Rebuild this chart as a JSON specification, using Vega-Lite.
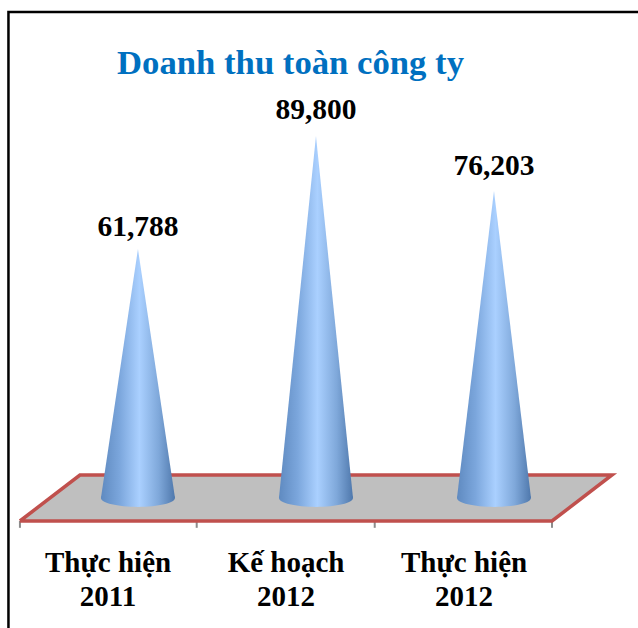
{"$schema":"https://vega.github.io/schema/vega-lite/v6.json","width":638,"height":628,"autosize":{"type":"none"},"padding":0,"background":"white","view":{"stroke":null},"datasets":{"frame":[{"x":-0.7275,"y":-32258,"o":0},{"x":-0.7275,"y":120596,"o":1},{"x":2.809,"y":120596,"o":2}],"floorFill":[{"x":-0.663,"y":-5707,"y2":-5707},{"x":-0.326,"y":5707,"y2":-5707},{"x":2.326,"y":5707,"y2":-5707},{"x":2.663,"y":5707,"y2":5707}],"floorEdge":[{"x":-0.663,"y":-5707,"o":0},{"x":-0.326,"y":5707,"o":1},{"x":2.663,"y":5707,"o":2},{"x":2.326,"y":-5707,"o":3},{"x":-0.663,"y":-5707,"o":4}],"ticks":[{"x":-0.663,"y":-5707,"y2":-7400},{"x":0.33,"y":-5707,"y2":-7400},{"x":1.33,"y":-5707,"y2":-7400},{"x":2.326,"y":-5707,"y2":-7400}],"cones":[{"name":"a","x":-0.208,"y":0},{"name":"a","x":0,"y":61788},{"name":"a","x":0.208,"y":0},{"name":"b","x":0.792,"y":0},{"name":"b","x":1,"y":89800},{"name":"b","x":1.208,"y":0},{"name":"c","x":1.792,"y":0},{"name":"c","x":2,"y":76203},{"name":"c","x":2.208,"y":0}],"categories":[{"pos":0,"value":61788,"labelAt":67246,"label":"Thực hiện\n2011","labelX":-0.168,"labelY":-16250},{"pos":1,"value":89800,"labelAt":96278,"label":"Kế hoạch\n2012","labelX":0.832,"labelY":-16250},{"pos":2,"value":76203,"labelAt":82382,"label":"Thực hiện\n2012","labelX":1.832,"labelY":-16250}],"title":[{"x":0.857,"y":107570,"text":"Doanh thu toàn công ty"}]},"encoding":{},"layer":[{"data":{"name":"frame"},"mark":{"type":"line","color":"black","strokeWidth":2.5,"interpolate":"linear"},"encoding":{"x":{"field":"x","type":"quantitative","scale":{"domain":[-0.775,2.809],"nice":false,"zero":false},"axis":null},"y":{"field":"y","type":"quantitative","scale":{"domain":[-32258,123573],"nice":false,"zero":false},"axis":null,"stack":null},"order":{"field":"o"}}},{"data":{"name":"floorFill"},"mark":{"type":"area","color":"#BFBFBF"},"encoding":{"x":{"field":"x","type":"quantitative"},"y":{"field":"y","type":"quantitative","stack":null},"y2":{"field":"y2"}}},{"data":{"name":"ticks"},"mark":{"type":"rule","color":"#8C8C8C","strokeWidth":2},"encoding":{"x":{"field":"x","type":"quantitative"},"y":{"field":"y","type":"quantitative"},"y2":{"field":"y2"}}},{"data":{"name":"floorEdge"},"mark":{"type":"line","color":"#C0504D","strokeWidth":3.5,"strokeJoin":"miter"},"encoding":{"x":{"field":"x","type":"quantitative"},"y":{"field":"y","type":"quantitative","stack":null},"order":{"field":"o"}}},{"data":{"name":"cones"},"mark":{"type":"area","fill":{"gradient":"linear","x1":0,"y1":0,"x2":1,"y2":0,"stops":[{"offset":0,"color":"#5F8AC0"},{"offset":0.25,"color":"#7BA6DC"},{"offset":0.52,"color":"#AAD0FF"},{"offset":0.78,"color":"#7FA8DA"},{"offset":1,"color":"#4F78AC"}]}},"encoding":{"x":{"field":"x","type":"quantitative"},"y":{"field":"y","type":"quantitative","stack":null},"detail":{"field":"name"}}},{"data":{"name":"categories"},"mark":{"type":"point","filled":true,"opacity":1,"size":5476,"shape":"M -1 0 A 1 0.24 0 1 0 1 0 A 1 0.24 0 1 0 -1 0 Z","fill":{"gradient":"linear","x1":0,"y1":0,"x2":1,"y2":0,"stops":[{"offset":0,"color":"#5F8AC0"},{"offset":0.25,"color":"#7BA6DC"},{"offset":0.52,"color":"#AAD0FF"},{"offset":0.78,"color":"#7FA8DA"},{"offset":1,"color":"#4F78AC"}]},"stroke":null},"encoding":{"x":{"field":"pos","type":"quantitative"},"y":{"datum":0,"type":"quantitative"}}},{"data":{"name":"categories"},"mark":{"type":"text","font":"Liberation Serif","fontWeight":"bold","fontSize":29.5,"color":"black","baseline":"middle"},"encoding":{"x":{"field":"pos","type":"quantitative"},"y":{"field":"labelAt","type":"quantitative"},"text":{"field":"value","type":"quantitative","format":","}}},{"data":{"name":"categories"},"mark":{"type":"text","font":"Liberation Serif","fontWeight":"bold","fontSize":29,"color":"black","lineBreak":"\n","lineHeight":33.5,"baseline":"middle"},"encoding":{"x":{"field":"labelX","type":"quantitative"},"y":{"field":"labelY","type":"quantitative"},"text":{"field":"label"}}},{"data":{"name":"title"},"mark":{"type":"text","font":"Liberation Serif","fontWeight":"bold","fontSize":34.7,"color":"#0070C0","baseline":"middle"},"encoding":{"x":{"field":"x","type":"quantitative"},"y":{"field":"y","type":"quantitative"},"text":{"field":"text"}}}]}
